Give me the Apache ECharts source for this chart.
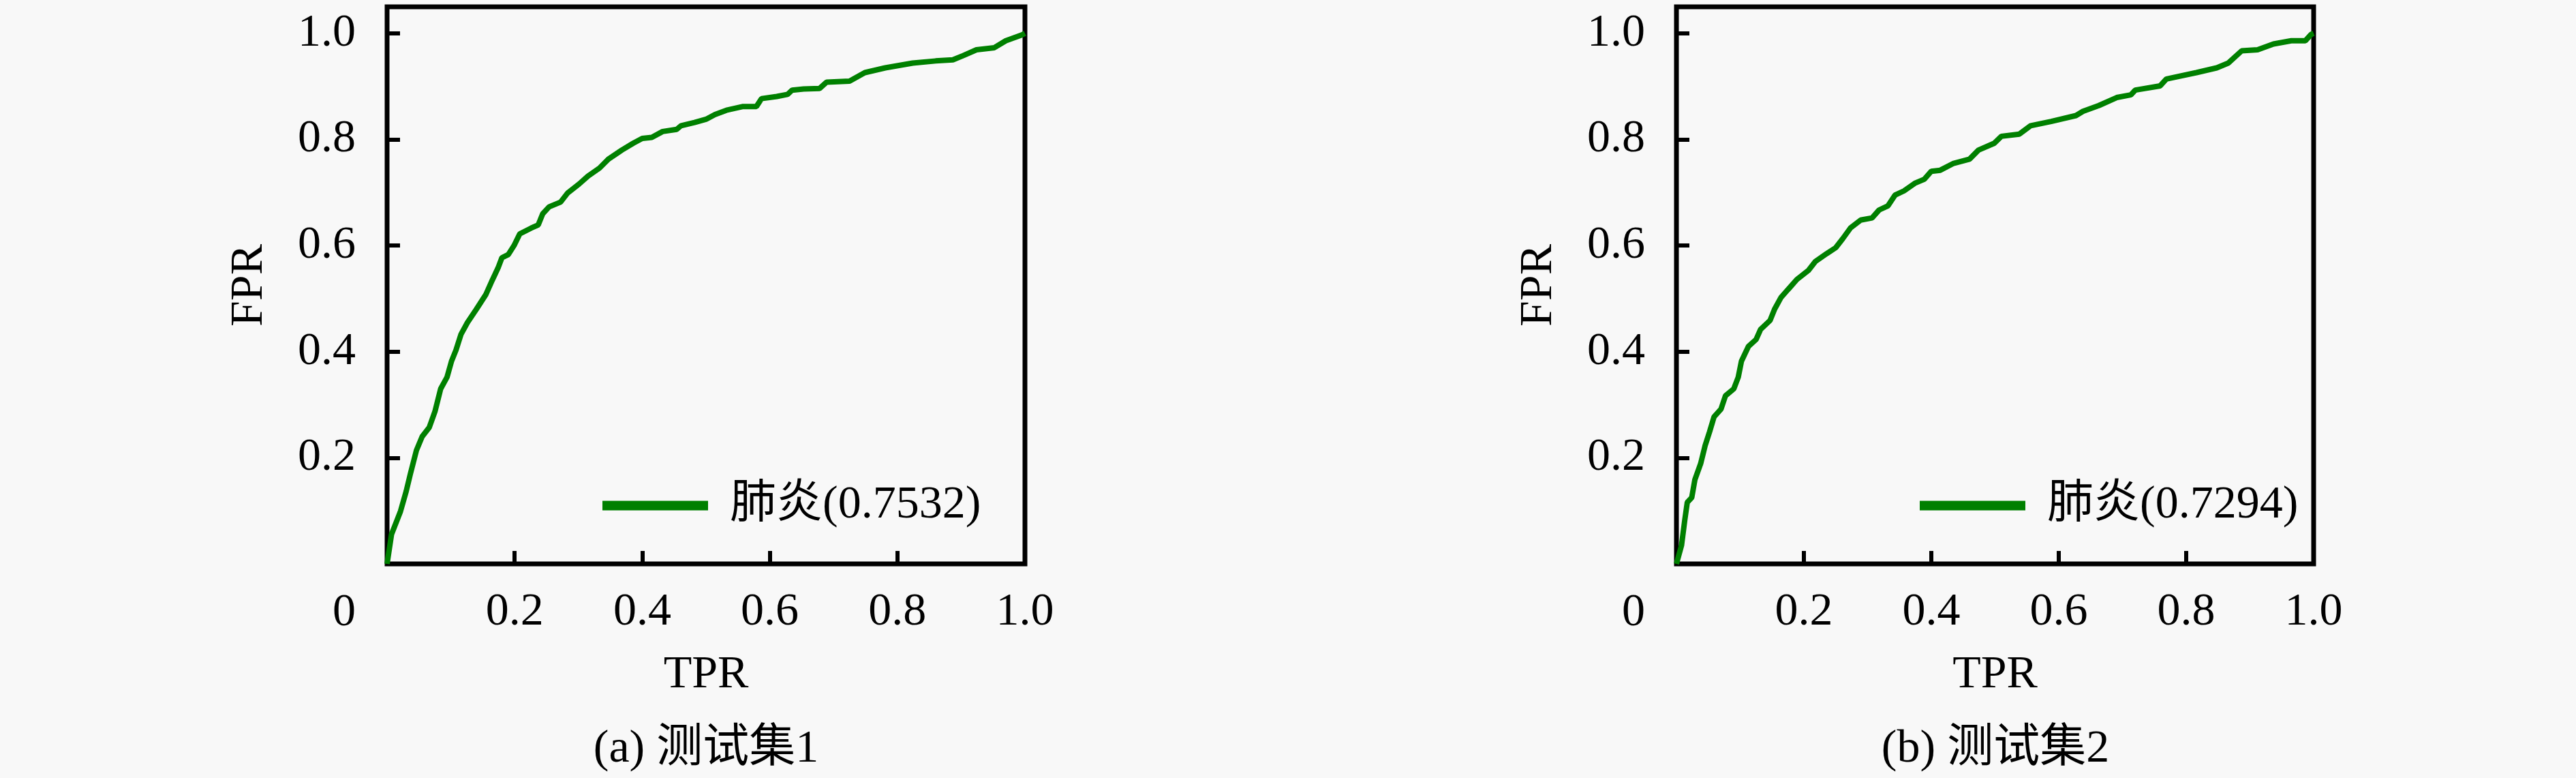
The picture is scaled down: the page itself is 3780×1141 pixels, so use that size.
<!DOCTYPE html>
<html>
<head>
<meta charset="utf-8">
<script src="https://cdn.jsdelivr.net/npm/echarts@6/dist/echarts.min.js"></script>
<style>
html,body{margin:0;padding:0;background:#f8f8f8;}
#chart{width:3780px;height:1141px;}
</style>
</head>
<body>
<div id="chart"></div>
<script>
// ---- data ----
const tprA = [0,0.007,0.021,0.030,0.037,0.046,0.055,0.066,0.075,0.084,0.094,0.101,0.108,0.116,0.126,0.140,0.155,0.165,0.174,0.180,0.190,0.199,0.208,0.226,0.237,0.244,0.254,0.272,0.283,0.301,0.315,0.333,0.347,0.368,0.386,0.400,0.415,0.432,0.454,0.461,0.482,0.500,0.514,0.532,0.557,0.579,0.587,0.611,0.628,0.635,0.653,0.678,0.689,0.725,0.749,0.781,0.824,0.860,0.887,0.903,0.924,0.952,0.970,0.995,1];
const fprA = [0,0.056,0.099,0.137,0.172,0.214,0.240,0.257,0.287,0.330,0.352,0.382,0.403,0.433,0.455,0.480,0.508,0.535,0.558,0.577,0.583,0.600,0.622,0.633,0.639,0.660,0.673,0.682,0.699,0.716,0.731,0.746,0.763,0.780,0.793,0.802,0.804,0.815,0.819,0.826,0.832,0.838,0.847,0.855,0.862,0.862,0.877,0.881,0.885,0.893,0.895,0.896,0.908,0.910,0.926,0.935,0.944,0.948,0.950,0.958,0.969,0.973,0.986,0.997,1];
const tprB = [0,0.008,0.013,0.017,0.024,0.029,0.038,0.045,0.052,0.059,0.070,0.077,0.090,0.097,0.102,0.113,0.125,0.132,0.147,0.154,0.164,0.175,0.189,0.207,0.218,0.236,0.250,0.261,0.273,0.289,0.307,0.318,0.332,0.343,0.357,0.375,0.389,0.400,0.414,0.435,0.460,0.474,0.499,0.510,0.538,0.556,0.588,0.627,0.638,0.663,0.691,0.713,0.720,0.759,0.769,0.816,0.848,0.866,0.887,0.912,0.937,0.965,0.987,0.996,1];
const fprB = [0,0.035,0.082,0.116,0.125,0.159,0.189,0.223,0.249,0.277,0.292,0.317,0.330,0.352,0.382,0.410,0.423,0.442,0.459,0.480,0.502,0.517,0.536,0.553,0.570,0.585,0.596,0.613,0.633,0.648,0.652,0.667,0.675,0.695,0.703,0.718,0.725,0.740,0.742,0.755,0.763,0.780,0.793,0.806,0.810,0.826,0.834,0.845,0.853,0.864,0.879,0.884,0.893,0.901,0.914,0.926,0.935,0.944,0.967,0.969,0.980,0.986,0.986,0.998,1];
const seriesNames = ['肺炎(0.7532)', '肺炎(0.7294)'];
const subTitles = ['(a) 测试集1', '(b) 测试集2'];
const xTickValues = [0.2, 0.4, 0.6, 0.8, 1.0];
const yTickValues = [0.2, 0.4, 0.6, 0.8, 1.0];
const yLabelValues = [0, 0.2, 0.4, 0.6, 0.8, 1.0];
const xName = 'TPR';
const yName = 'FPR';

// ---- styling ----
const FONT = '"Liberation Serif", "DejaVu Serif", "Noto Sans CJK SC", serif';
const GREEN = '#008000';
const FS = 68;

const grids = [
  {left: 568, top: 10, width: 936, height: 817},
  {left: 2460, top: 10, width: 935, height: 817}
];

function pairs(xs, ys) { return xs.map((x, i) => [x, ys[i]]); }

const chart = echarts.init(document.getElementById('chart'));
const option = {
  backgroundColor: '#f8f8f8',
  animation: false,
  textStyle: {fontFamily: FONT},
  grid: grids.map(g => Object.assign({show: true, borderColor: '#000', borderWidth: 7, backgroundColor: 'transparent'}, g)),
  xAxis: [0, 1].map(i => ({
    gridIndex: i, type: 'value', min: 0, max: 1,
    axisLine: {show: false},
    splitLine: {show: false},
    axisTick: {show: true, inside: true, length: 19, lineStyle: {color: '#000', width: 6}, customValues: [0.2, 0.4, 0.6, 0.8]},
    axisLabel: {customValues: xTickValues, margin: 37, fontSize: FS, lineHeight: FS, color: '#000', fontFamily: FONT,
      formatter: v => v.toFixed(1)},
    name: xName, nameLocation: 'middle', nameGap: 129,
    nameTextStyle: {fontSize: FS, lineHeight: FS, color: '#000', fontFamily: FONT}
  })),
  yAxis: [0, 1].map(i => ({
    gridIndex: i, type: 'value', min: 0, max: 1.05,
    axisLine: {show: false},
    splitLine: {show: false},
    axisTick: {show: true, inside: true, length: 19, lineStyle: {color: '#000', width: 6}, customValues: yTickValues},
    axisLabel: {customValues: yLabelValues, margin: 46, fontSize: FS, lineHeight: FS, color: '#000', fontFamily: FONT,
      formatter: v => (Math.abs(v) < 1e-9 ? '{o|0}' : v.toFixed(1)),
      rich: {o: {padding: [144, 0, 0, 0], fontSize: FS, lineHeight: FS, color: '#000', fontFamily: FONT}}},
    name: yName, nameLocation: 'middle', nameGap: 168,
    nameTextStyle: {fontSize: FS, lineHeight: FS, color: '#000', fontFamily: FONT}
  })),
  legend: [0, 1].map(i => ({
    data: [seriesNames[i]],
    left: i === 0 ? 884 : 2817,
    top: 741.5 - FS / 2,
    icon: 'rect', itemWidth: 155, itemHeight: 14,
    padding: 0,
    textStyle: {fontSize: FS, lineHeight: FS, color: '#000', fontFamily: FONT, padding: [0, 0, 0, 27]}
  })),
  series: [
    {name: seriesNames[0], type: 'line', xAxisIndex: 0, yAxisIndex: 0, data: pairs(tprA, fprA),
     showSymbol: false, symbol: 'none', lineStyle: {color: GREEN, width: 8}, itemStyle: {color: GREEN}, z: 3},
    {name: seriesNames[1], type: 'line', xAxisIndex: 1, yAxisIndex: 1, data: pairs(tprB, fprB),
     showSymbol: false, symbol: 'none', lineStyle: {color: GREEN, width: 8}, itemStyle: {color: GREEN}, z: 3}
  ],
  graphic: [
    {type: 'text', x: 1036, y: 1099, style: {text: subTitles[0], fontSize: 68, fontFamily: FONT, fill: '#000', textAlign: 'center', textVerticalAlign: 'middle'}},
    {type: 'text', x: 2928, y: 1099, style: {text: subTitles[1], fontSize: 68, fontFamily: FONT, fill: '#000', textAlign: 'center', textVerticalAlign: 'middle'}}
  ]
};
chart.setOption(option);
</script>
</body>
</html>
